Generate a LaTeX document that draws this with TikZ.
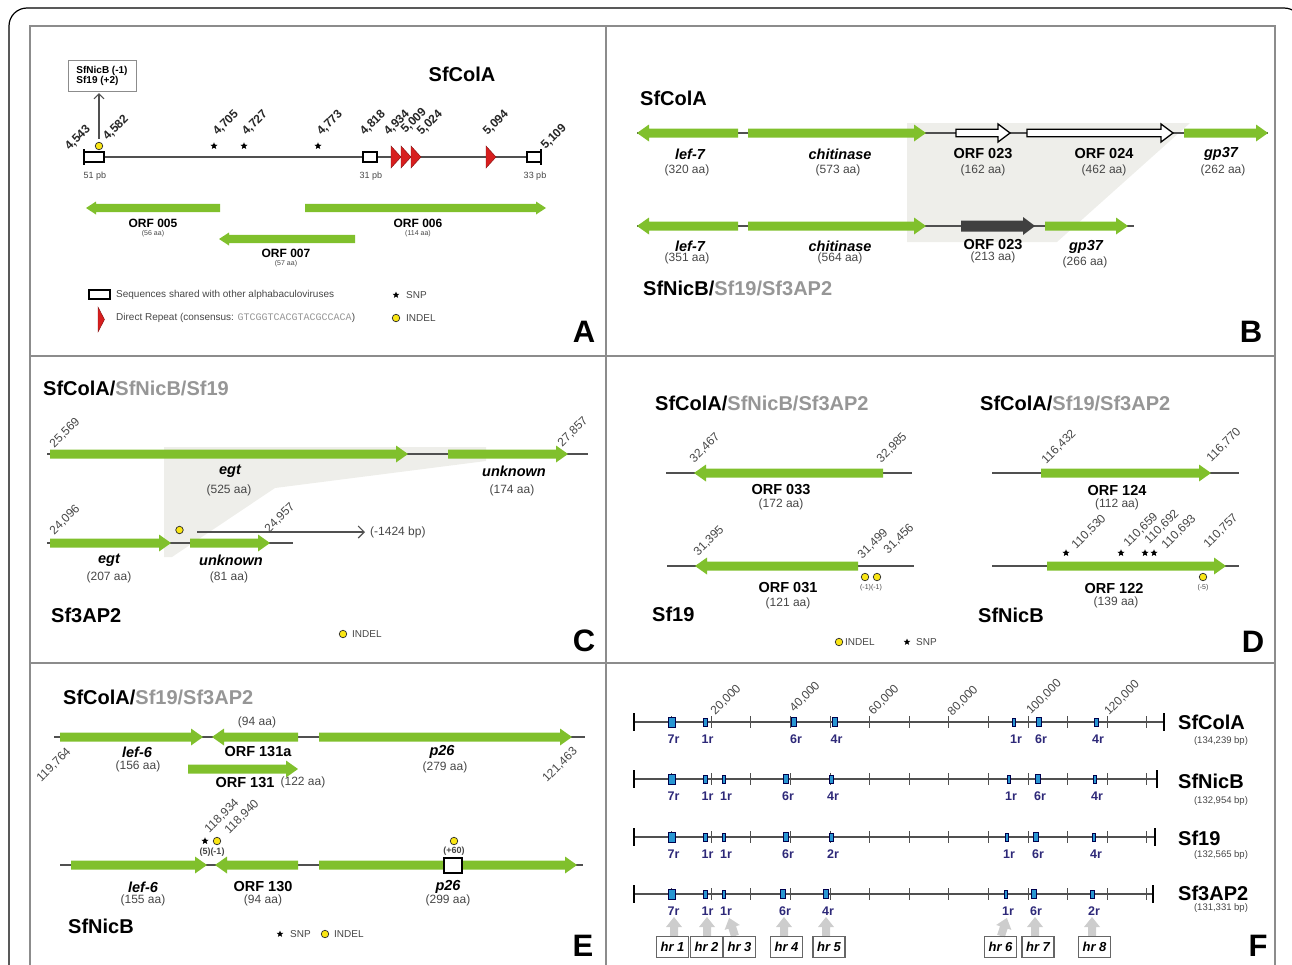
\documentclass[tikz,border=0pt]{standalone}
\usepackage{fontspec}
\setmainfont{Liberation Sans}
\setmonofont{Liberation Mono}
\usetikzlibrary{shapes.geometric,arrows.meta}
\definecolor{grn}{RGB}{128,192,44}
\definecolor{shd}{RGB}{238,238,234}
\definecolor{frm}{RGB}{140,140,140}
\definecolor{ln}{RGB}{80,80,80}
\definecolor{txg}{RGB}{70,70,70}
\definecolor{ltg}{RGB}{150,150,150}
\definecolor{arg}{RGB}{205,205,205}
\definecolor{yel}{RGB}{250,230,20}
\definecolor{rd}{RGB}{215,30,30}
\definecolor{nvy}{RGB}{45,40,120}
\definecolor{hrb}{RGB}{40,150,210}
\newcommand\fs[1]{\fontsize{#1}{#1}\selectfont}
\def\bh{4.5}\def\hh{8.5}\def\hl{12}
\newcommand\gR[4][grn]{\fill[#1] (#2,#4-\bh) -- (#3-\hl,#4-\bh) -- (#3-\hl,#4-\hh) -- (#3,#4) -- (#3-\hl,#4+\hh) -- (#3-\hl,#4+\bh) -- (#2,#4+\bh) -- cycle;}
\newcommand\gL[4][grn]{\fill[#1] (#2,#4-\bh) -- (#3+\hl,#4-\bh) -- (#3+\hl,#4-\hh) -- (#3,#4) -- (#3+\hl,#4+\hh) -- (#3+\hl,#4+\bh) -- (#2,#4+\bh) -- cycle;}
\newcommand\uparr[2]{\begin{scope}[rotate around={#2:(#1,936)}]\fill[arg] (#1-4,936) -- (#1-4,927) -- (#1-8,927) -- (#1,917) -- (#1+8,927) -- (#1+4,927) -- (#1+4,936) -- cycle;\end{scope}}
\tikzset{
 ttl/.style={anchor=west, font=\fs{20}\bfseries, inner sep=0},
 plet/.style={font=\fs{31}\bfseries, inner sep=0},
 gn/.style={font=\fs{14.5}\bfseries\itshape, inner sep=0},
 orf/.style={font=\fs{14.5}\bfseries, inner sep=0},
 aa/.style={font=\fs{12}, text=txg, inner sep=0},
 num/.style={font=\fs{12}, text=txg, rotate=45, inner sep=0},
 numA/.style={font=\fs{12}\bfseries, text=black!85, rotate=45, inner sep=0},
 bl/.style={draw=ln, line width=1.3},
 yc/.style={circle, fill=yel, draw=black!85, line width=.7, minimum size=7.5, inner sep=0},
 snp/.style={star, star points=5, star point ratio=2.3, fill=black, inner sep=0, minimum size=7.5},
 leg/.style={anchor=west, font=\fs{10}, text=txg, inner sep=0},
 hrl/.style={font=\fs{12.5}\bfseries, text=nvy, inner sep=0},
 hrm/.style={rectangle, fill=hrb, draw=black!70!blue, line width=.6, inner sep=0},
 hrn/.style={draw=black!60, line width=1.2, minimum width=32, minimum height=21, inner sep=0, font=\fs{13}\bfseries\itshape},
}
\begin{document}
\begin{tikzpicture}[x=1pt,y=-1pt]
\useasboundingbox (0,0) rectangle (1292,964);
% frames
\draw[line width=1.2, rounded corners=18] (9,1000) -- (9,8) -- (1302,8) -- (1302,1000);
\draw[frm, line width=1.5] (30,1000) -- (30,26) -- (1275,26) -- (1275,1000);
\draw[frm, line width=1.5] (606,26) -- (606,1000);
\draw[frm, line width=1.5] (30,356) -- (1275,356);
\draw[frm, line width=1.5] (30,663) -- (1275,663);

% ================= Panel A
\begin{scope}
\def\bh{4.2}\def\hh{6.5}\def\hl{10}
\node[font=\fs{10}\bfseries, draw=frm, line width=.8, align=left, minimum width=68, minimum height=31, inner sep=2] (lbA) at (102,76) {SfNicB (-1)\\Sf19 (+2)};
\node[font=\fs{20}\bfseries] (tA) at (462,74) {SfColA};
\draw[bl] (84,157) -- (541,157);
\draw[line width=1.8] (84,149) -- (84,165);
\draw[line width=1.8] (541,149) -- (541,165);
\draw[fill=white, line width=1.1] (84,152) rectangle (104,162);
\draw[fill=white, line width=1.1] (363,152) rectangle (377,162);
\draw[fill=white, line width=1.1] (527,152) rectangle (541,162);
\foreach \t in {391,401,411,486}{\fill[rd, draw=rd!60!black, line width=.4] (\t,146) -- (\t+10,157) -- (\t,168) -- cycle;}
\node[yc] (yA) at (99,146) {};
\draw[ln, line width=1.1, -{Straight Barb[length=5,width=10]}] (yA.north) ++(0,-3) -- (99,93);
\foreach \x in {214,244,318}{\node[snp] at (\x,146) {};}
\node[numA] at (78,138) {4,543};
\node[numA] at (116,128) {4,582};
\node[numA] at (226,123) {4,705};
\node[numA] at (255,123) {4,727};
\node[numA] at (330,123) {4,773};
\node[numA] at (373,123) {4,818};
\node[numA] at (397,123) {4,934};
\node[numA] at (414,121) {5,009};
\node[numA] at (430,123) {5,024};
\node[numA] at (496,123) {5,094};
\node[numA] at (554,137) {5,109};
\node[font=\fs{9}, text=txg] at (95,176) {51 pb};
\node[font=\fs{9}, text=txg] at (371,176) {31 pb};
\node[font=\fs{9}, text=txg] at (535,176) {33 pb};
\gL{220}{86}{208}
\gR{305}{546}{208}
\gL{355}{219}{239}
\node[font=\fs{12}\bfseries] at (153,223) {ORF 005};
\node[font=\fs{7}, text=txg] at (153,234) {(56 aa)};
\node[font=\fs{12}\bfseries] at (418,223) {ORF 006};
\node[font=\fs{7}, text=txg] at (418,234) {(114 aa)};
\node[font=\fs{12}\bfseries] at (286,253) {ORF 007};
\node[font=\fs{7}, text=txg] at (286,264) {(57 aa)};
\draw[fill=white, line width=1.2] (89,290) rectangle (110,299);
\node[leg] at (116,295) {Sequences shared with other alphabaculoviruses};
\fill[rd, draw=rd!60!black, line width=.4] (98,307) -- (104.5,319.5) -- (98,332) -- cycle;
\node[leg] at (116,318) {Direct Repeat (consensus: {\ttfamily\color{ltg}GTCGGTCACGTACGCCACA})};
\node[snp, minimum size=7] at (396,295) {};
\node[leg] at (406,295) {SNP};
\node[yc] at (396,318) {};
\node[leg] at (406,318) {INDEL};
\node[plet] (lA) at (584,332) {A};
\end{scope}

% ================= Panel B
\fill[shd] (907,123) -- (1190,123) -- (1057,242) -- (907,242) -- cycle;
\node[ttl] (tB1) at (640,98) {SfColA};
\draw[bl] (637,133) -- (1268,133);
\gL{738}{637}{133}
\gR{748}{926}{133}
\begingroup\def\bh{3.7}\def\hh{9}\def\hl{12}
\gR[draw=black,fill=white,line width=1.3]{956}{1010}{133}
\gR[draw=black,fill=white,line width=1.3]{1027}{1173}{133}
\endgroup
\gR{1184}{1268}{133}
\node[gn] at (690,154) {lef-7};
\node[aa] at (687,170) {(320 aa)};
\node[gn] at (840,154) {chitinase};
\node[aa] at (838,170) {(573 aa)};
\node[orf] at (983,154) {ORF 023};
\node[aa] at (983,170) {(162 aa)};
\node[orf] at (1104,154) {ORF 024};
\node[aa] at (1104,170) {(462 aa)};
\node[gn] at (1221,154) {gp37};
\node[aa] at (1223,170) {(262 aa)};
\draw[bl] (637,226) -- (1134,226);
\gL{738}{637}{226}
\gR{748}{926}{226}
\begingroup\def\bh{5.5}\def\hh{9}
\gR[black!75]{961}{1035}{226}
\endgroup
\gR{1045}{1128}{226}
\node[gn] at (690,246) {lef-7};
\node[aa] at (687,258) {(351 aa)};
\node[gn] at (840,246) {chitinase};
\node[aa] at (840,258) {(564 aa)};
\node[orf] at (993,245) {ORF 023};
\node[aa] at (993,257) {(213 aa)};
\node[gn] at (1086,247) {gp37};
\node[aa] at (1085,262) {(266 aa)};
\node[ttl] (tB2) at (643,288) {SfNicB/{\color{ltg}Sf19/Sf3AP2}};
\node[plet] (lB) at (1251,332) {B};

% ================= Panel C
\node[ttl] (tC1) at (43,388) {SfColA/{\color{ltg}SfNicB/Sf19}};
\fill[shd] (164,447) -- (486,447) -- (486,461) -- (275,488) -- (172,557) -- (164,557) -- cycle;
\draw[bl] (47,454) -- (588,454);
\gR{50}{408}{454}
\gR{448}{568}{454}
\node[num] at (65,433) {25,569};
\node[num] at (573,432) {27,857};
\node[gn] at (230,471) {egt};
\node[aa] at (229,490) {(525 aa)};
\node[gn] at (514,471) {unknown};
\node[aa] at (512,490) {(174 aa)};
\draw[bl] (47,543) -- (293,543);
\gR{50}{171}{543}
\gR{190}{270}{543}
\node[yc] (yC) at (179.5,530) {};
\node[font=\fs{12}, text=txg, anchor=west, inner sep=0] (bpC) at (370,532) {(-1424 bp)};
\coordinate (sC) at (197,532);
\draw[ln, line width=1.1, -{Straight Barb[length=6,width=12]}] (sC) -- ([xshift=-5]bpC.west);
\node[num] at (65,520) {24,096};
\node[num] at (280,518) {24,957};
\node[gn] at (109,560) {egt};
\node[aa] at (109,577) {(207 aa)};
\node[gn] at (231,560) {unknown};
\node[aa] at (229,577) {(81 aa)};
\node[ttl] (tC2) at (51,615) {Sf3AP2};
\node[yc] at (343,634) {};
\node[leg] at (352,634) {INDEL};
\node[plet] (lC) at (584,641) {C};

% ================= Panel D
\node[ttl] (tD1) at (655,403) {SfColA/{\color{ltg}SfNicB/Sf3AP2}};
\node[ttl] (tD2) at (980,403) {SfColA/{\color{ltg}Sf19/Sf3AP2}};
\draw[bl] (666,473) -- (912,473);
\gL{883}{694}{473}
\node[num] at (705,448) {32,467};
\node[num] at (892,448) {32,985};
\node[orf] at (781,490) {ORF 033};
\node[aa] at (781,504) {(172 aa)};
\draw[bl] (992,473) -- (1239,473);
\gR{1041}{1211}{473}
\node[num] at (1059,447) {116,432};
\node[num] at (1224,445) {116,770};
\node[orf] at (1117,490) {ORF 124};
\node[aa] at (1117,504) {(112 aa)};
\draw[bl] (667,566) -- (914,566);
\gL{858}{695}{566}
\node[num] at (709,541) {31,395};
\node[num] at (873,544) {31,499};
\node[num] at (899,539) {31,456};
\node[yc] at (865,577) {};
\node[yc] at (877,577) {};
\node[font=\fs{7}, text=txg] at (871,588) {(-1)(-1)};
\node[orf] at (788,588) {ORF 031};
\node[aa] at (788,603) {(121 aa)};
\node[ttl] (tD3) at (652,614) {Sf19};
\draw[bl] (992,566) -- (1239,566);
\gR{1047}{1226}{566}
\foreach \x in {1066,1121,1145,1154}{\node[snp] at (\x,553) {};}
\node[num] at (1089,532) {110,530};
\node[num] at (1141,530) {110,659};
\node[num] at (1162,527) {110,692};
\node[num] at (1179,532) {110,693};
\node[num] at (1221,531) {110,757};
\node[yc] at (1203,577) {};
\node[font=\fs{7}, text=txg] at (1203,588) {(-5)};
\node[orf] at (1114,588) {ORF 122};
\node[aa] at (1116,602) {(139 aa)};
\node[ttl] (tD4) at (978,615) {SfNicB};
\node[yc] at (839,642) {};
\node[leg] at (845,642) {INDEL};
\node[snp, minimum size=7] at (907,642) {};
\node[leg] at (916,642) {SNP};
\node[plet] (lD) at (1253,642) {D};

% ================= Panel E
\node[ttl] (tE1) at (63,697) {SfColA/{\color{ltg}Sf19/Sf3AP2}};
\draw[bl] (54,737) -- (585,737);
\gR{60}{203}{737}
\gL{298}{212}{737}
\gR{319}{572}{737}
\node[aa] at (257,722) {(94 aa)};
\node[gn] at (137,752) {lef-6};
\node[aa] at (138,766) {(156 aa)};
\node[orf] at (258,752) {ORF 131a};
\node[gn] at (442,752) {p26};
\node[aa] at (445,767) {(279 aa)};
\gR{188}{298}{769}
\node[orf] at (245,783) {ORF 131};
\node[aa] at (303,782) {(122 aa)};
\node[num] at (54,765) {119,764};
\node[num] at (560,765) {121,463};
\draw[bl] (60,865) -- (583,865);
\gR{71}{207}{865}
\gL{298}{215}{865}
\gR{319}{577}{865}
\draw[fill=white, line width=2] (444,858) rectangle (462,873);
\node[snp] at (205,841) {};
\node[yc] at (217,841) {};
\node[font=\fs{9}\bfseries, text=txg] at (212,852) {(5)(-1)};
\node[num] at (222,816) {118,934};
\node[num] at (242,817) {118,940};
\node[yc] at (454,841) {};
\node[font=\fs{9}\bfseries, text=txg] at (454,851) {(+60)};
\node[gn] at (143,887) {lef-6};
\node[aa] at (143,900) {(155 aa)};
\node[orf] at (263,887) {ORF 130};
\node[aa] at (263,900) {(94 aa)};
\node[gn] at (448,887) {p26};
\node[aa] at (448,900) {(299 aa)};
\node[ttl] (tE2) at (68,926) {SfNicB};
\node[snp, minimum size=7] at (280,934) {};
\node[leg] at (290,934) {SNP};
\node[yc] at (325,934) {};
\node[leg] at (334,934) {INDEL};
\node[plet] (lE) at (583,946) {E};

% ================= Panel F
\foreach \y/\e in {722/1164,779/1157,837/1155,894/1153}{
  \draw[bl] (634,\y) -- (\e,\y);
  \draw[line width=2] (634,\y-9) -- (634,\y+9);
  \draw[line width=2] (\e,\y-9) -- (\e,\y+9);
  \foreach \k in {1,...,13}{\draw[ln, line width=.9] (632+39.6*\k,\y-6) -- (632+39.6*\k,\y+6);}
}
\node[num] at (726,700) {20,000};
\node[num] at (805,697) {40,000};
\node[num] at (884,700) {60,000};
\node[num] at (963,701) {80,000};
\node[num] at (1044,697) {100,000};
\node[num] at (1122,698) {120,000};
\foreach \y/\lst in {722/{671.5/7r/7/10,705.5/1r/3.5/8,794/6r/5/9,834.5/4r/5/9,1014/1r/3.5/8,1039/6r/5/9,1096/4r/4/8},
 779/{671.5/7r/7/10,705.5/1r/3.5/8,724/1r/3.5/8,786/6r/5/9,831/4r/4/8,1009/1r/3.5/8,1038/6r/5/9,1095/4r/3.5/8},
 837/{671.5/7r/7/10,705.5/1r/3.5/8,724/1r/3.5/8,786/6r/5/9,831/2r/4/8,1007/1r/3.5/8,1036/6r/5/9,1094/4r/3.5/8},
 894/{671.5/7r/7/10,705.5/1r/3.5/8,724/1r/3.5/8,783/6r/5/9,826/4r/5/9,1006/1r/3.5/8,1034/6r/5/9,1092/2r/4/8}}{
  \foreach \x/\l/\w/\h in \lst {
    \node[hrm, minimum width=\w, minimum height=\h] at (\x,\y) {};
    \node[hrl] at (\x+2,\y+17) {\l};
  }
}
\node[ttl] (g1) at (1178,722) {SfColA};
\node[font=\fs{9.5}, text=txg] at (1221,741) {(134,239 bp)};
\node[ttl] (g2) at (1178,781) {SfNicB};
\node[font=\fs{9.5}, text=txg] at (1221,801) {(132,954 bp)};
\node[ttl] (g3) at (1178,838) {Sf19};
\node[font=\fs{9.5}, text=txg] at (1221,855) {(132,565 bp)};
\node[ttl] (g4) at (1178,893) {Sf3AP2};
\node[font=\fs{9.5}, text=txg] at (1221,908) {(131,331 bp)};
\uparr{674}{0}
\uparr{707}{0}
\uparr{735}{18}
\uparr{784}{0}
\uparr{826}{0}
\uparr{1001}{-18}
\uparr{1035}{0}
\uparr{1092}{0}
\node[hrn] (h1) at (672.5,947) {hr 1};
\node[hrn] (h2) at (706.5,947) {hr 2};
\node[hrn] (h3) at (739.5,947) {hr 3};
\node[hrn] (h4) at (786.5,947) {hr 4};
\node[hrn] (h5) at (829,947) {hr 5};
\node[hrn] (h6) at (1000.5,947) {hr 6};
\node[hrn] (h7) at (1038,947) {hr 7};
\node[hrn] (h8) at (1094.5,947) {hr 8};
\node[plet] (lF) at (1258,946) {F};
\end{tikzpicture}
\end{document}
